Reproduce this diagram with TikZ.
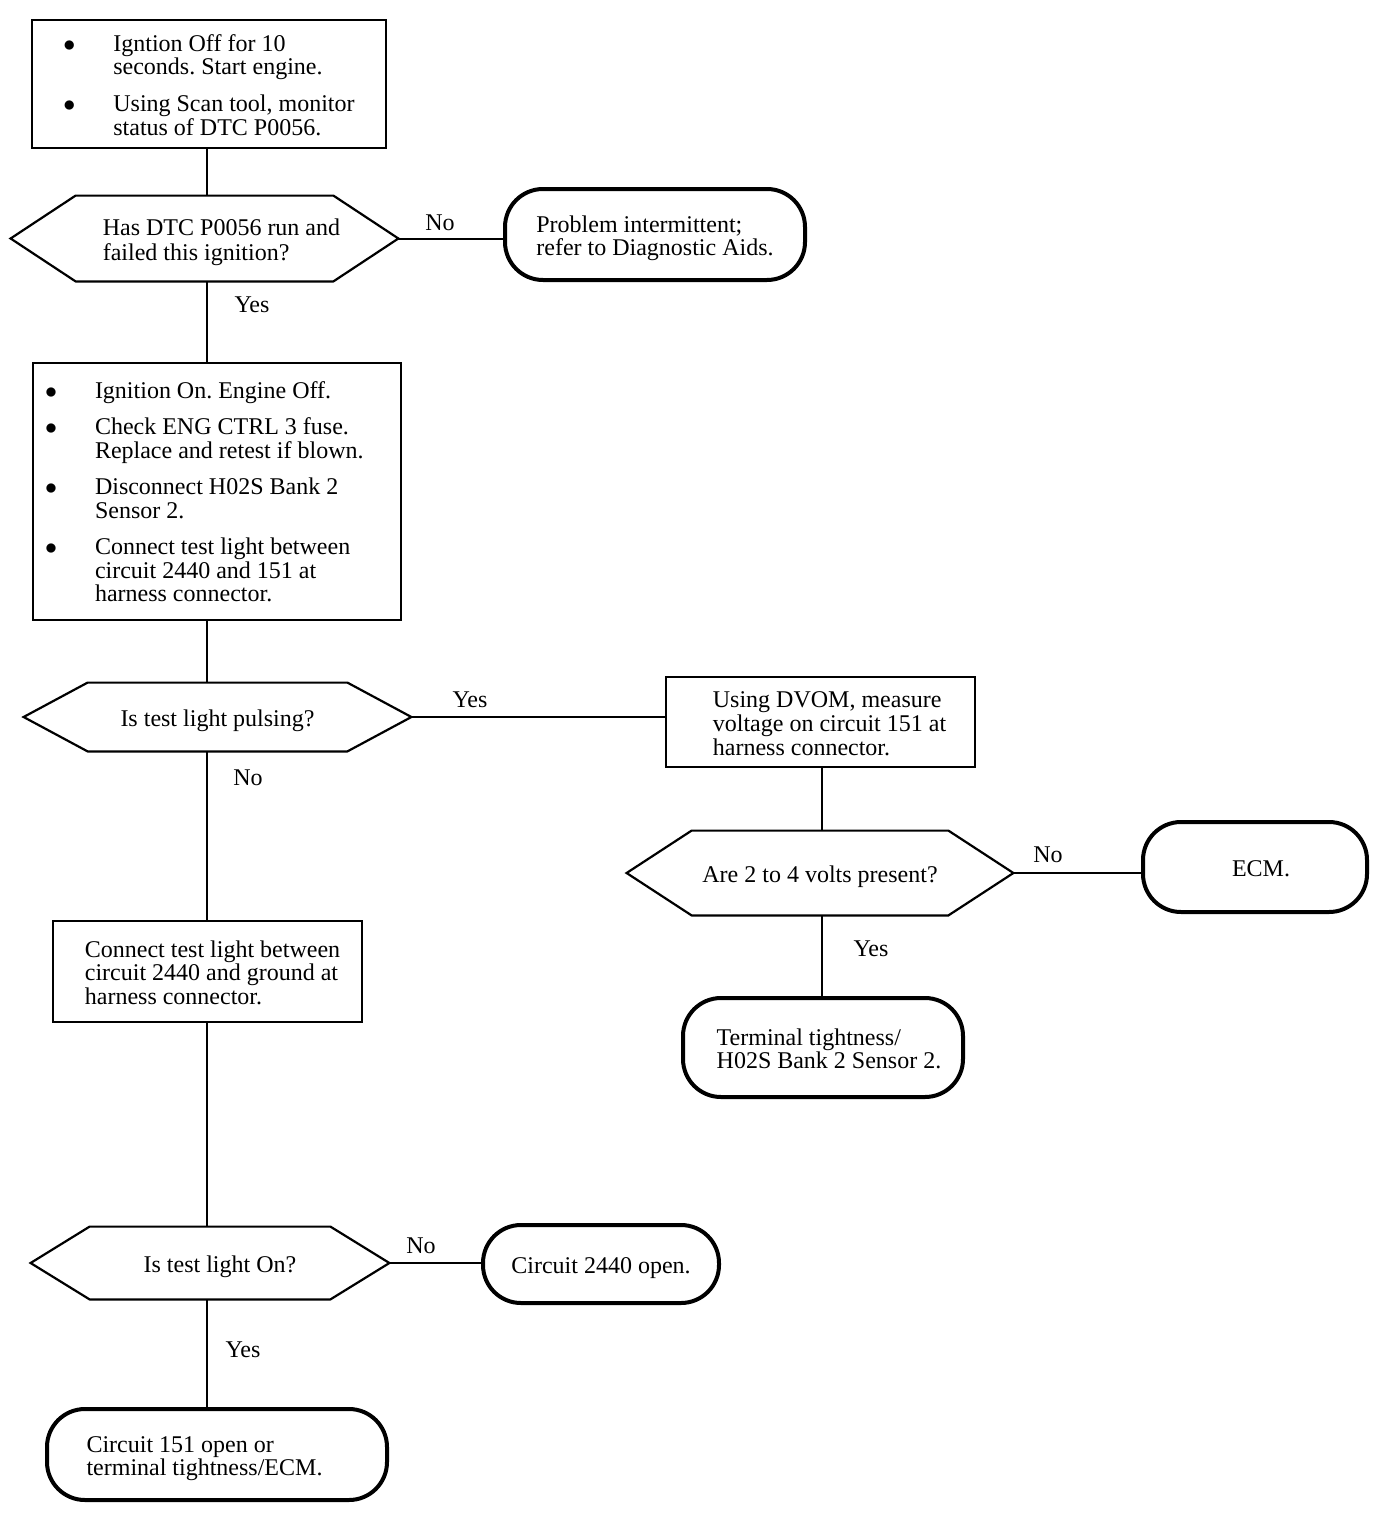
\documentclass[tikz,border=0pt]{standalone}
\usepackage{fontspec}
\setmainfont{Liberation Serif}
\usepackage{tikz}
\usetikzlibrary{calc}

\newcommand{\chartfont}{\fontsize{12pt}{11.75pt}\selectfont\frenchspacing}
\newcommand{\bul}{\makebox[25pt][l]{$\bullet$}}
\newcommand{\ind}{\hspace*{25pt}}
% text block pushed right by half of #1 and a little down
\newcommand{\nudge}[2]{\hspace*{#1}\begin{tabular}{@{}l@{}}\rule{0pt}{13pt}#2\end{tabular}}
% outline of a decision node, #2 = slant of the pointed ends
\newcommand{\hexshape}[2]{%
  \draw[hexline] (#1.west) -- ($(#1.north west)+(#2,0)$) -- ($(#1.north east)+(-#2,0)$)
    -- (#1.east) -- ($(#1.south east)+(-#2,0)$) -- ($(#1.south west)+(#2,0)$) -- cycle;}

\begin{document}
\begin{tikzpicture}[x=0.5pt, y=-0.5pt,
        box/.style={draw, line width=1.3pt, inner ysep=1pt, font=\chartfont},
        query/.style={inner ysep=1pt, font=\chartfont},
        stop/.style={draw, line width=2pt, rounded corners=19pt, inner ysep=1pt,
                    font=\chartfont},
        link/.style={line width=1pt},
        hexline/.style={line width=1.1pt, line join=miter},
        tag/.style={font=\chartfont}]

        \useasboundingbox (0,0) rectangle (1392,1520);
        \coordinate (leftspine)  at (207,0);
        \coordinate (rightspine) at (822,0);

        % Left column
        \node[box, minimum width=177pt, minimum height=64pt] (start) at (209,84)
            {\nudge{0pt}{\bul Igntion Off for 10\\ \ind seconds. Start engine.\\[6.5pt]
             \bul Using Scan tool, monitor\\ \ind status of DTC P0056.}};
        \node[query, minimum width=193.5pt, minimum height=42.5pt] (ran) at (204.5,238.5)
            {\nudge{17pt}{Has DTC P0056 run and\\[1pt] failed this ignition?}};
        \node[box, minimum width=184pt, minimum height=128.5pt, text width=172pt,
              inner xsep=6pt, align=flush left] (checks) at (217,491.5)
            {\bul Ignition On. Engine Off.\\[6.5pt]
             \bul Check ENG CTRL 3 fuse.\\ \ind Replace and retest if blown.\\[6.5pt]
             \bul Disconnect H02S Bank 2\\ \ind Sensor 2.\\[6.5pt]
             \bul Connect test light between\\ \ind circuit 2440 and 151 at\\ \ind harness connector.};
        \node[query, minimum width=193.5pt, minimum height=34pt] (pulse) at (217.5,717)
            {\nudge{0pt}{Is test light pulsing?}};
        \node[box, minimum width=154.5pt, minimum height=50.5pt] (ground) at (207.5,971.5)
            {\nudge{5pt}{Connect test light between\\circuit 2440 and ground at\\harness connector.}};
        \node[query, minimum width=179pt, minimum height=36pt] (lighton) at (210,1263)
            {\nudge{10pt}{Is test light On?}};
        \node[stop, minimum width=170pt, minimum height=45.5pt] (open151) at (217,1454.5)
            {\nudge{-12.5pt}{Circuit 151 open or\\terminal tightness/ECM.}};

        % Right side
        \node[stop, minimum width=150pt, minimum height=45.5pt] (intermit) at (655,234.5)
            {\nudge{0pt}{Problem intermittent;\\refer to Diagnostic Aids.}};
        \node[box, minimum width=154.5pt, minimum height=45pt] (dvom) at (820.5,722)
            {\nudge{9pt}{Using DVOM, measure\\voltage on circuit 151 at\\harness connector.}};
        \node[query, minimum width=193pt, minimum height=42pt] (volts) at (820,873)
            {\nudge{0pt}{Are 2 to 4 volts present?}};
        \node[stop, minimum width=112pt, minimum height=45pt] (ecm) at (1255,867)
            {\nudge{6pt}{ECM.}};
        \node[stop, minimum width=140pt, minimum height=49.5pt] (tight) at (823,1047.5)
            {\nudge{6pt}{Terminal tightness/\\H02S Bank 2 Sensor 2.}};
        \node[stop, minimum width=118pt, minimum height=39pt] (open2440) at (601,1264)
            {\nudge{0pt}{Circuit 2440 open.}};

        % Decision outlines
        \hexshape{ran}{65}
        \hexshape{pulse}{64}
        \hexshape{volts}{65}
        \hexshape{lighton}{59}

        % Connectors
        \draw[link] (start.south -| leftspine) -- (ran.north -| leftspine);
        \draw[link] (ran.south -| leftspine) -- (checks.north -| leftspine);
        \draw[link] (checks.south -| leftspine) -- (pulse.north -| leftspine);
        \draw[link] (pulse.south -| leftspine) -- (ground.north -| leftspine);
        \draw[link] (ground.south -| leftspine) -- (lighton.north -| leftspine);
        \draw[link] (lighton.south -| leftspine) -- (open151.north -| leftspine);
        \draw[link] (ran.east) -- (ran.east -| intermit.west);
        \draw[link] (pulse.east) -- (pulse.east -| dvom.west);
        \draw[link] (dvom.south -| rightspine) -- (volts.north -| rightspine);
        \draw[link] (volts.east) -- (volts.east -| ecm.west);
        \draw[link] (volts.south -| rightspine) -- (tight.north -| rightspine);
        \draw[link] (lighton.east) -- (lighton.east -| open2440.west);

        % Branch labels
        \node[tag] (no1)  at (440,223)  {No};
        \node[tag] (yes1) at (252,305)  {Yes};
        \node[tag] (yes2) at (470,700)  {Yes};
        \node[tag] (no2)  at (248,778)  {No};
        \node[tag] (no3)  at (1048,855) {No};
        \node[tag] (yes3) at (871,949)  {Yes};
        \node[tag] (no4)  at (421,1246) {No};
        \node[tag] (yes4) at (243,1350) {Yes};
\end{tikzpicture}
\end{document}
